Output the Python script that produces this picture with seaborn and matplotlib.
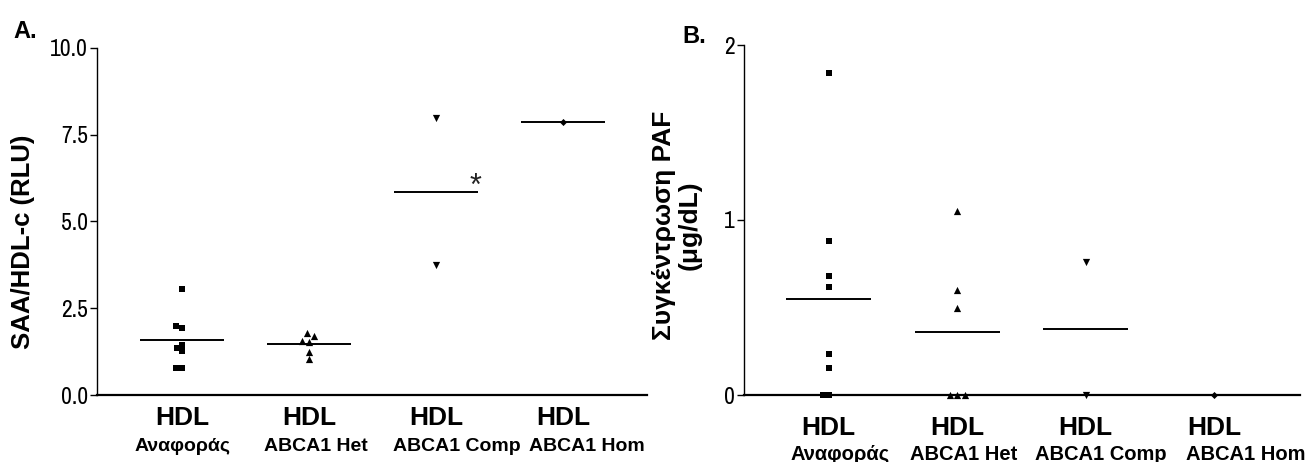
import numpy as np
import pandas as pd
import matplotlib
matplotlib.use("Agg")
import matplotlib.pyplot as plt
import seaborn as sns
from matplotlib import font_manager
from matplotlib.font_manager import FontProperties

# ---------------- data ----------------
groups = ["Αναφοράς", "ABCA1 Het", "ABCA1 Comp", "ABCA1 Hom"]
hdl_label = "HDL"

saa_ref = [3.05, 1.99, 1.94, 1.44, 1.36, 1.27, 0.79, 0.79]
saa_het = [1.80, 1.70, 1.56, 1.54, 1.25, 1.03]
saa_comp = [7.97, 3.75]
saa_hom = [7.88]

paf_ref = [1.84, 0.88, 0.68, 0.615, 0.235, 0.155, 0.0, 0.0]
paf_het = [1.05, 0.60, 0.495, 0.0, 0.0, 0.0]
paf_comp = [0.76, 0.0]
paf_hom = [0.0]

yticks_a = [0, 2.5, 5.0, 7.5, 10.0]
ytick_labels_a = ["0.0", "2.5", "5.0", "7.5", "10.0"]
yticks_b = [0, 1, 2]
ytick_labels_b = ["0", "1", "2"]

ylabel_a = "SAA/HDL-c (RLU)"
ylabel_b = "Συγκέντρωση PAF\n(μg/dL)"
signif_mark = "*"

# ---------------- style ----------------
sns.set_style("ticks")
plt.rcParams["font.family"] = ["Liberation Sans", "DejaVu Sans"]
for k in ["text.color", "axes.labelcolor", "xtick.color", "ytick.color", "axes.edgecolor"]:
    plt.rcParams[k] = "black"


def find_narrow_font():
    flist = font_manager.fontManager.ttflist

    def is_regular(f):
        return f.style == "normal" and f.weight in (400, "normal", "regular", "book")

    prefs = [
        lambda f: f.name == "Liberation Sans Narrow" and is_regular(f),
        lambda f: "Narrow" in f.name and is_regular(f),
        lambda f: "Condensed" in f.name and is_regular(f),
        lambda f: str(f.stretch) in ("condensed", "semi-condensed", "extra-condensed")
        and "Sans" in f.name and is_regular(f),
        lambda f: "Condensed" in f.fname and "Bold" not in f.fname and "Oblique" not in f.fname,
    ]
    for p in prefs:
        for f in flist:
            try:
                if p(f):
                    return f.fname
            except Exception:
                pass
    return None


narrow_path = find_narrow_font()


def tick_font(size):
    if narrow_path:
        return FontProperties(fname=narrow_path, size=size)
    return FontProperties(family="DejaVu Sans", stretch="condensed", size=size)


markers = ["s", "^", "v", "D"]
msizes = [4.2, 5.2, 5.2, 3.6]
label_shift_a = [0.0, 0.05, 0.16, 0.19]
label_shift_b = [0.09, 0.05, 0.12, 0.25]

fig = plt.figure(figsize=(13.1, 4.62), dpi=100)
ax_a = fig.add_axes([97 / 1310, 1 - 395 / 462, 550 / 1310, 347 / 462])
ax_b = fig.add_axes([744 / 1310, 1 - 395 / 462, 556 / 1310, 350 / 462])


def long_df(values_list):
    return pd.DataFrame({
        "group": np.repeat(groups, [len(v) for v in values_list]),
        "value": np.concatenate([np.asarray(v, float) for v in values_list]),
    })


def draw_panel(ax, df, ylim, yticks, yticklabels, xlim, shifts, hdl_y, sub_y, sub_size):
    for g, m, s in zip(groups, markers, msizes):
        sub = df[df["group"] == g]
        sns.swarmplot(data=sub, x="group", y="value", order=groups, marker=m,
                      size=s, color="black", linewidth=0, ax=ax,
                      clip_on=False, zorder=5)
    means = df.groupby("group", sort=False)["value"].mean().reindex(groups)
    pos = np.arange(len(groups))
    ax.hlines(means.values, pos - 0.33, pos + 0.33, color="black", lw=1.4, zorder=4)
    ax.set_xlim(*xlim)
    ax.set_ylim(*ylim)
    ax.set_yticks(yticks)
    ax.set_yticklabels(yticklabels, fontproperties=tick_font(17))
    ax.set_xticks(pos)
    ax.set_xticklabels([])
    ax.tick_params(axis="x", length=0)
    ax.tick_params(axis="y", length=5, width=1.0, pad=1.5, colors="black")
    ax.set_xlabel("")
    sns.despine(ax=ax)
    ax.spines["left"].set_linewidth(1.0)
    ax.spines["bottom"].set_linewidth(1.6)
    tr = ax.get_xaxis_transform()
    for i, g in enumerate(groups):
        ax.text(i, hdl_y, hdl_label, transform=tr, ha="center", va="baseline",
                fontsize=19, fontweight="bold", color="black")
        ax.text(i + shifts[i], sub_y, g, transform=tr, ha="center", va="baseline",
                fontsize=sub_size, fontweight="bold", color="black")
    return means


df_a = long_df([saa_ref, saa_het, saa_comp, saa_hom])
means_a = draw_panel(ax_a, df_a, (0, 10), yticks_a, ytick_labels_a, (-0.67, 3.66),
                     label_shift_a, -30 / 347, -56 / 347, 14)
ax_a.set_ylabel(ylabel_a, fontsize=18.5, fontweight="bold", va="center", color="black")
ax_a.yaxis.set_label_coords((23 - 97) / 550, (395 - 242) / 347)
ax_a.text(2 + 0.31, means_a.iloc[2] + 0.15, signif_mark, ha="center", va="center",
          fontsize=22, color="#222222")

df_b = long_df([paf_ref, paf_het, paf_comp, paf_hom])
draw_panel(ax_b, df_b, (0, 2), yticks_b, ytick_labels_b, (-0.66, 3.67),
           label_shift_b, -40 / 350, -65 / 350, 14.5)
ax_b.set_ylabel(ylabel_b, fontsize=19, fontweight="bold", va="center",
                multialignment="center", linespacing=1.1, color="black")
ax_b.yaxis.set_label_coords((677 - 744) / 556, (395 - 225) / 350)

fig.text(13 / 1310, 1 - 38 / 462, "A.", fontsize=17, fontweight="bold", va="baseline", color="black")
fig.text(682 / 1310, 1 - 43 / 462, "B.", fontsize=17, fontweight="bold", va="baseline", color="black")

fig.savefig("out.png", dpi=100)
